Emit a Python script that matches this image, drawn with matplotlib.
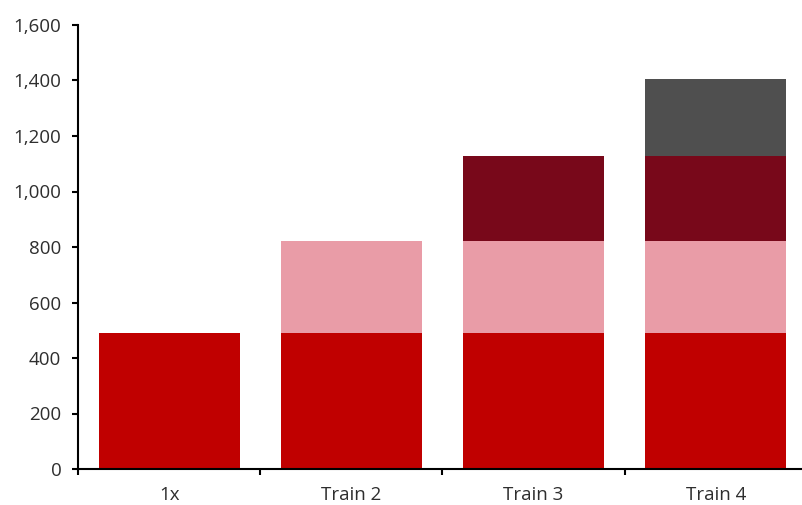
import matplotlib
matplotlib.use("Agg")
import matplotlib.pyplot as plt
import numpy as np
from matplotlib.ticker import FuncFormatter, FixedLocator

categories = ["1x", "Train 2", "Train 3", "Train 4"]
train1 = [490, 490, 490, 490]
train2 = [0, 332, 332, 332]
train3 = [0, 0, 305, 305]
train4 = [0, 0, 0, 277]

colors = ["#C00000", "#E99CA7", "#78081A", "#4F4F4F"]
series = [train1, train2, train3, train4]

plt.rcParams["font.family"] = ["Open Sans", "DejaVu Sans"]
text_color = "#2E2E2E"

fig = plt.figure(figsize=(8.03, 5.05), dpi=100)
ax = fig.add_axes([78 / 803, 1 - 469 / 505, 729 / 803, 444 / 505])

x = np.arange(len(categories))
bottom = np.zeros(len(categories))
for vals, c in zip(series, colors):
    v = np.array(vals, dtype=float)
    ax.bar(x, v, bottom=bottom, width=0.775, color=c, edgecolor="none")
    bottom += v

ax.set_xlim(-0.5, len(categories) - 0.5)
ax.set_ylim(0, 1600)
ax.set_yticks(np.arange(0, 1601, 200))
ax.yaxis.set_major_formatter(FuncFormatter(lambda v, p: f"{int(v):,}"))

ax.set_xticks(x)
ax.set_xticklabels(categories)
ax.xaxis.set_minor_locator(FixedLocator(np.arange(-0.5, len(categories), 1.0)))
ax.tick_params(axis="x", which="major", length=0, pad=12, labelsize=13.5,
               labelcolor=text_color)
ax.tick_params(axis="x", which="minor", length=4.5, width=1.5, direction="out")
ax.tick_params(axis="y", length=4.5, width=1.5, direction="out", labelsize=13.5,
               pad=7.5, labelcolor=text_color)

for s in ["top", "right"]:
    ax.spines[s].set_visible(False)
for s in ["left", "bottom"]:
    ax.spines[s].set_linewidth(1.5)

fig.savefig("out.png", dpi=100)
